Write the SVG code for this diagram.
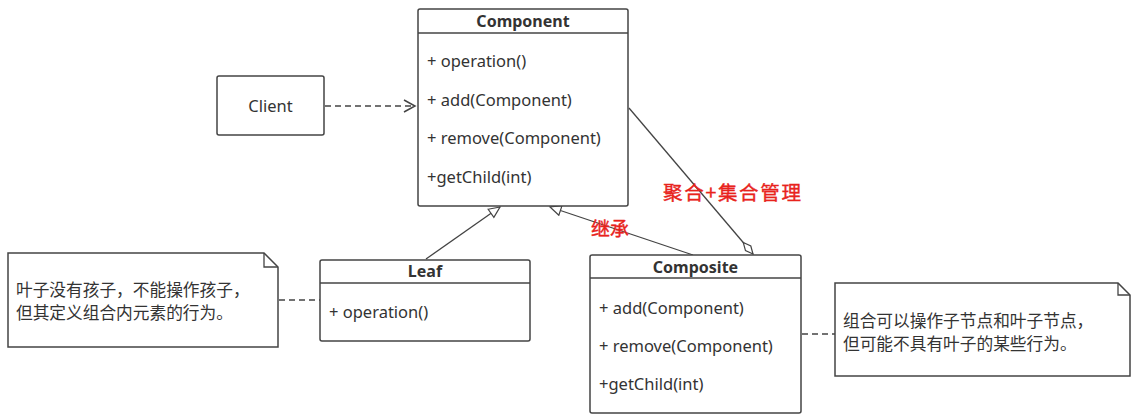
<svg xmlns="http://www.w3.org/2000/svg" width="1141" height="419" viewBox="0 0 1141 419">
<style>
.box{fill:#fff;stroke:#444;stroke-width:1.5}
.ln{stroke:#444;stroke-width:1.3;fill:none}
.t{font-family:"Noto Sans","Noto Sans CJK SC",sans-serif;font-size:16.5px;fill:#333}
.b{font-weight:bold;text-anchor:middle;font-size:16px}
.c{font-family:"Noto Sans CJK SC",sans-serif;font-size:16.7px;fill:#333}
.r{font-family:"Noto Sans CJK SC",sans-serif;fill:#e8231c;stroke:#e8231c;stroke-width:0.4}
.dash{stroke:#444;stroke-width:1.5;stroke-dasharray:6,4;fill:none}
</style>
<defs>
<marker id="open" markerWidth="14" markerHeight="14" refX="12" refY="7" orient="auto" markerUnits="userSpaceOnUse">
<path d="M1,1 L12,7 L1,13" fill="none" stroke="#444" stroke-width="1.5"/>
</marker>
<marker id="tri" markerWidth="14" markerHeight="12" refX="12" refY="6" orient="auto" markerUnits="userSpaceOnUse">
<path d="M1,1 L12,6 L1,11 Z" fill="#fff" stroke="#444" stroke-width="1.2"/>
</marker>
<marker id="dia" markerWidth="18" markerHeight="10" refX="16" refY="5" orient="auto" markerUnits="userSpaceOnUse">
<path d="M1,5 L8.5,1.5 L16,5 L8.5,8.5 Z" fill="#fff" stroke="#444" stroke-width="1.2"/>
</marker>
</defs>
<g id="connectors">
<line class="dash" x1="325" y1="106" x2="415" y2="106" marker-end="url(#open)"/>
<line class="ln" x1="426" y1="259" x2="500" y2="207" marker-end="url(#tri)"/>
<line class="ln" x1="693" y1="255" x2="550" y2="207" marker-end="url(#tri)"/>
<line class="ln" x1="629" y1="108" x2="753" y2="254" marker-end="url(#dia)"/>
<line class="dash" x1="279" y1="300" x2="320" y2="300"/>
<line class="dash" x1="802" y1="334" x2="835" y2="334"/>
</g>
<g id="component">
<rect class="box" x="418" y="9" width="210" height="197" rx="2"/>
<line class="ln" x1="418" y1="33" x2="628" y2="33"/>
<text class="t b" x="523" y="27">Component</text>
<text class="t" x="427" y="67">+ operation()</text>
<text class="t" x="427" y="106">+ add(Component)</text>
<text class="t" x="427" y="144">+ remove(Component)</text>
<text class="t" x="427" y="183">+getChild(int)</text>
</g>
<g id="client">
<rect class="box" x="217" y="76" width="107" height="59" rx="2"/>
<text class="t" x="270.5" y="112" text-anchor="middle">Client</text>
</g>
<g id="leaf">
<rect class="box" x="320" y="260" width="210" height="81" rx="2"/>
<line class="ln" x1="320" y1="283" x2="530" y2="283"/>
<text class="t b" x="425" y="277">Leaf</text>
<text class="t" x="329" y="318">+ operation()</text>
</g>
<g id="composite">
<rect class="box" x="590" y="255" width="211" height="158" rx="2"/>
<line class="ln" x1="590" y1="278" x2="801" y2="278"/>
<text class="t b" x="695.5" y="273">Composite</text>
<text class="t" x="599" y="314">+ add(Component)</text>
<text class="t" x="599" y="352">+ remove(Component)</text>
<text class="t" x="599" y="390">+getChild(int)</text>
</g>
<g id="note-leaf">
<path class="box" d="M8,253 L264,253 L278,267 L278,347 L8,347 Z"/>
<path class="ln" d="M264,253 L264,267 L278,267"/>
<text class="c" x="16" y="296">叶子没有孩子，不能操作孩子，</text>
<text class="c" x="16" y="319">但其定义组合内元素的行为。</text>
</g>
<g id="note-composite">
<path class="box" d="M835,283 L1118,283 L1130,295 L1130,376 L835,376 Z"/>
<path class="ln" d="M1118,283 L1118,295 L1130,295"/>
<text class="c" x="843" y="327">组合可以操作子节点和叶子节点，</text>
<text class="c" x="843" y="350">但可能不具有叶子的某些行为。</text>
</g>
<g id="labels">
<text class="r" x="663" y="200" font-size="19.5" textLength="138" lengthAdjust="spacing">聚合+集合管理</text>
<text class="r" x="591" y="236" font-size="19">继承</text>
</g>
</svg>
